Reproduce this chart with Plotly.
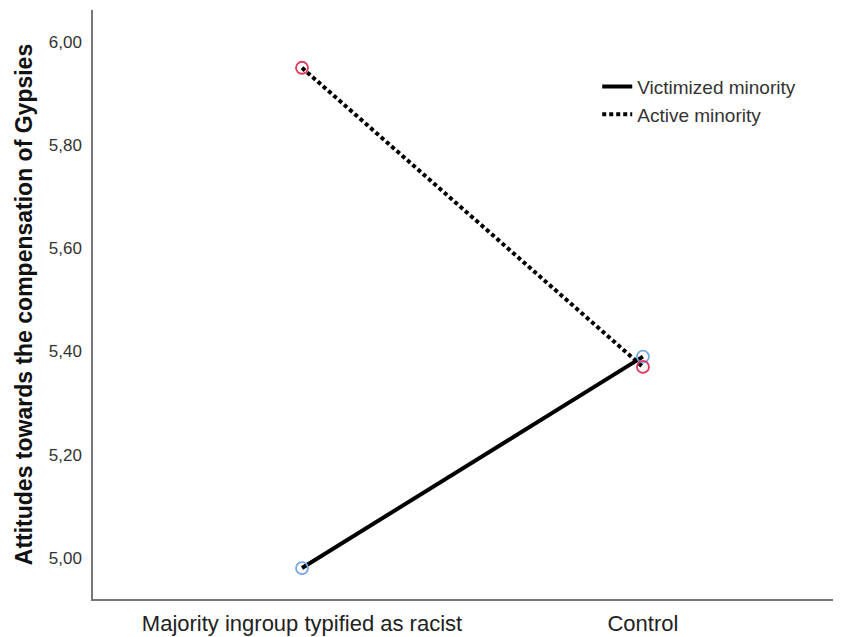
import plotly.graph_objects as go

categories = ["Majority ingroup typified as racist", "Control"]
victimized = [4.98, 5.39]
active = [5.95, 5.37]
series_names = ["Victimized minority", "Active minority"]
y_ticks = [5.0, 5.2, 5.4, 5.6, 5.8, 6.0]
y_tick_labels = ["5,00", "5,20", "5,40", "5,60", "5,80", "6,00"]

xpos = list(range(len(categories)))
FONT = "Liberation Sans, Arial, sans-serif"

fig = go.Figure()
fig.add_trace(go.Scatter(x=xpos, y=victimized, mode="lines", name=series_names[0],
                         line=dict(color="black", width=4)))
fig.add_trace(go.Scatter(x=xpos, y=active, mode="lines", name=series_names[1],
                         line=dict(color="black", width=4, dash="4px,3px")))
fig.add_trace(go.Scatter(x=xpos, y=victimized, mode="markers", showlegend=False,
                         marker=dict(symbol="circle-open", size=12, color="#74a9e6",
                                     line=dict(width=1.8, color="#74a9e6"))))
fig.add_trace(go.Scatter(x=xpos, y=active, mode="markers", showlegend=False,
                         marker=dict(symbol="circle-open", size=12, color="#e0365a",
                                     line=dict(width=1.8, color="#e0365a"))))

# page body has an 8px default margin, so the figure is sized to fit the window
fig.update_layout(
    width=833, height=629,
    margin=dict(l=85, r=1, t=2, b=38),
    paper_bgcolor="white", plot_bgcolor="white",
    font=dict(family=FONT, size=18, color="#222"),
    showlegend=True,
    legend=dict(x=0.675, y=0.902, xanchor="left", yanchor="top",
                bgcolor="rgba(0,0,0,0)", font=dict(size=19, color="#333"),
                tracegroupgap=0, itemwidth=30),
    xaxis=dict(range=[-0.613, 1.578], tickvals=xpos, ticktext=categories,
               showgrid=False, zeroline=False, showline=True, linecolor="#777",
               linewidth=1.5, ticks="", ticklabelstandoff=4,
               tickfont=dict(size=22, color="#222")),
    yaxis=dict(range=[4.92, 6.062], tickvals=y_ticks, ticktext=y_tick_labels,
               showgrid=False, zeroline=False, showline=True, linecolor="#777",
               linewidth=1.5, ticks="", ticklabelstandoff=6,
               tickfont=dict(size=17, color="#333"),
               title=dict(text="<b>Attitudes towards the compensation of Gypsies</b>",
                          font=dict(size=23, color="#111"), standoff=10)),
)

fig.write_html("out.html")
